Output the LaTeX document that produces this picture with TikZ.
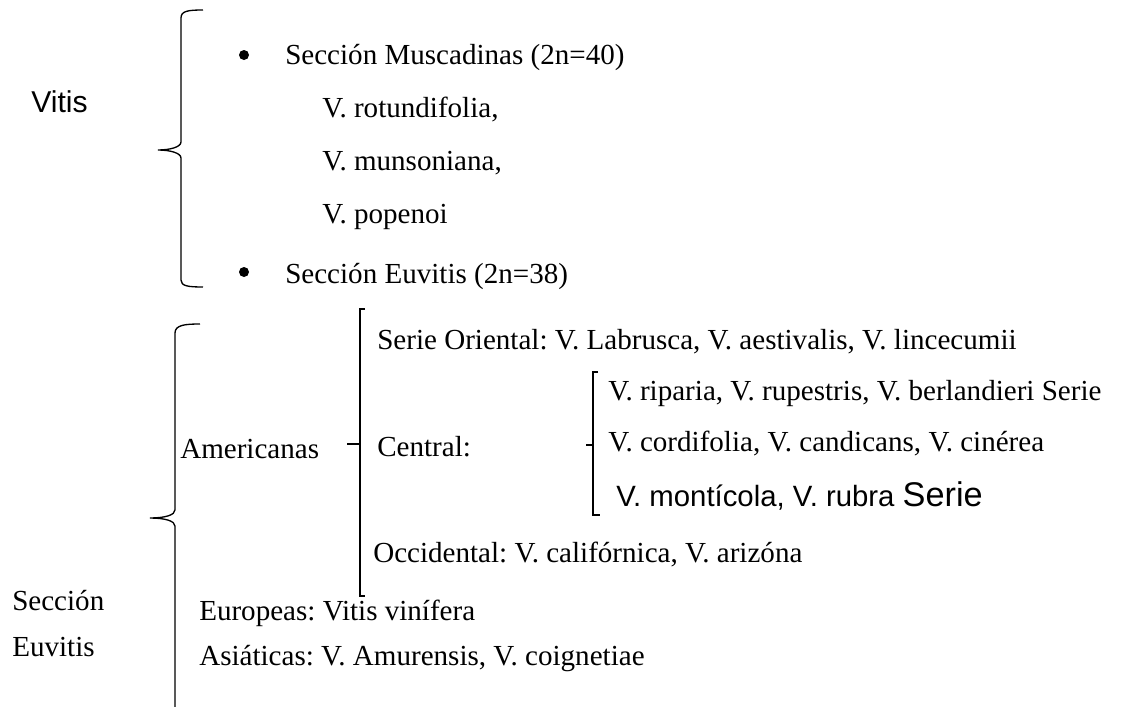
\documentclass[tikz,border=0pt]{standalone}
\usepackage{fontspec}
\setmainfont{Liberation Serif}
\newfontfamily\arialf{Liberation Sans}
\begin{document}
\frenchspacing
\begin{tikzpicture}[x=0.75pt,y=-0.75pt,
  txt/.style={anchor=base west,inner sep=0pt,font=\fontsize{21.8}{24}\selectfont},
  stxt/.style={anchor=base west,inner sep=0pt,font=\arialf\fontsize{22}{24}\selectfont},
  brace/.style={draw=black,line width=1pt},
  bul/.style={circle,fill=black,inner sep=0pt,minimum size=7.5pt}]
\useasboundingbox (0,0) rectangle (1125,707);
% Vitis brace
\node[stxt,font=\arialf\fontsize{22.6}{24}\selectfont] (vitis) at (31,112) {Vitis};
\draw[brace] (203,10) .. controls (188,10) and (181,11) .. (181,18) -- (181,142) .. controls (181,147) and (170,150) .. (158,150)
  .. controls (170,150) and (181,153) .. (181,158) -- (181,280) .. controls (181,286) and (188,287) .. (203,287);
\node[bul] (b1) at (244,55) {};
\node[bul] (b2) at (244,272) {};
\node[txt] (muscad) at (285,64) {Sección Muscadinas (2n=40)};
\node[txt] (rot) at (322,117) {V. rotundifolia,};
\node[txt] (mun) at (322,170) {V. munsoniana,};
\node[txt] (pop) at (322,223) {V. popenoi};
\node[txt] (euv) at (285,283) {Sección Euvitis (2n=38)};
% Seccion Euvitis brace
\node[txt] (secc) at (12,610) {Sección};
\node[txt] (euv2) at (12,656) {Euvitis};
\draw[brace] (200,324) .. controls (185,324) and (175,325) .. (175,333) -- (175,510) .. controls (175,515) and (165,518) .. (150,518)
  .. controls (165,518) and (175,521) .. (175,526) -- (175,707);
\node[txt] (amer) at (180,458) {Americanas};
% bracket 3
\draw[brace] (365,309) -- (360,309) -- (360,596) -- (365,596);
\draw[brace] (347,444) -- (360,444);
\node[txt] (ori) at (377,349) {Serie Oriental: V. Labrusca, V. aestivalis, V. lincecumii};
\node[txt] (cen) at (377,456) {Central:};
\node[txt] (occ) at (373,562) {Occidental: V. califórnica, V. arizóna};
\node[txt] (eur) at (199,620) {Europeas: Vitis vinífera};
\node[txt] (asi) at (199,665) {Asiáticas: V. Amurensis, V. coignetiae};
% bracket 4
\draw[brace] (598,372) -- (593,372) -- (593,515) -- (600,515);
\draw[brace] (586,445) -- (593,445);
\node[txt] (rip) at (608,400) {V. riparia, V. rupestris, V. berlandieri Serie};
\node[txt] (cor) at (608,451) {V. cordifolia, V. candicans, V. cinérea};
\node[stxt] (mon) at (616,506) {V. montícola, V. rubra {\fontsize{25.7}{26}\selectfont Serie}};
\end{tikzpicture}
\end{document}
